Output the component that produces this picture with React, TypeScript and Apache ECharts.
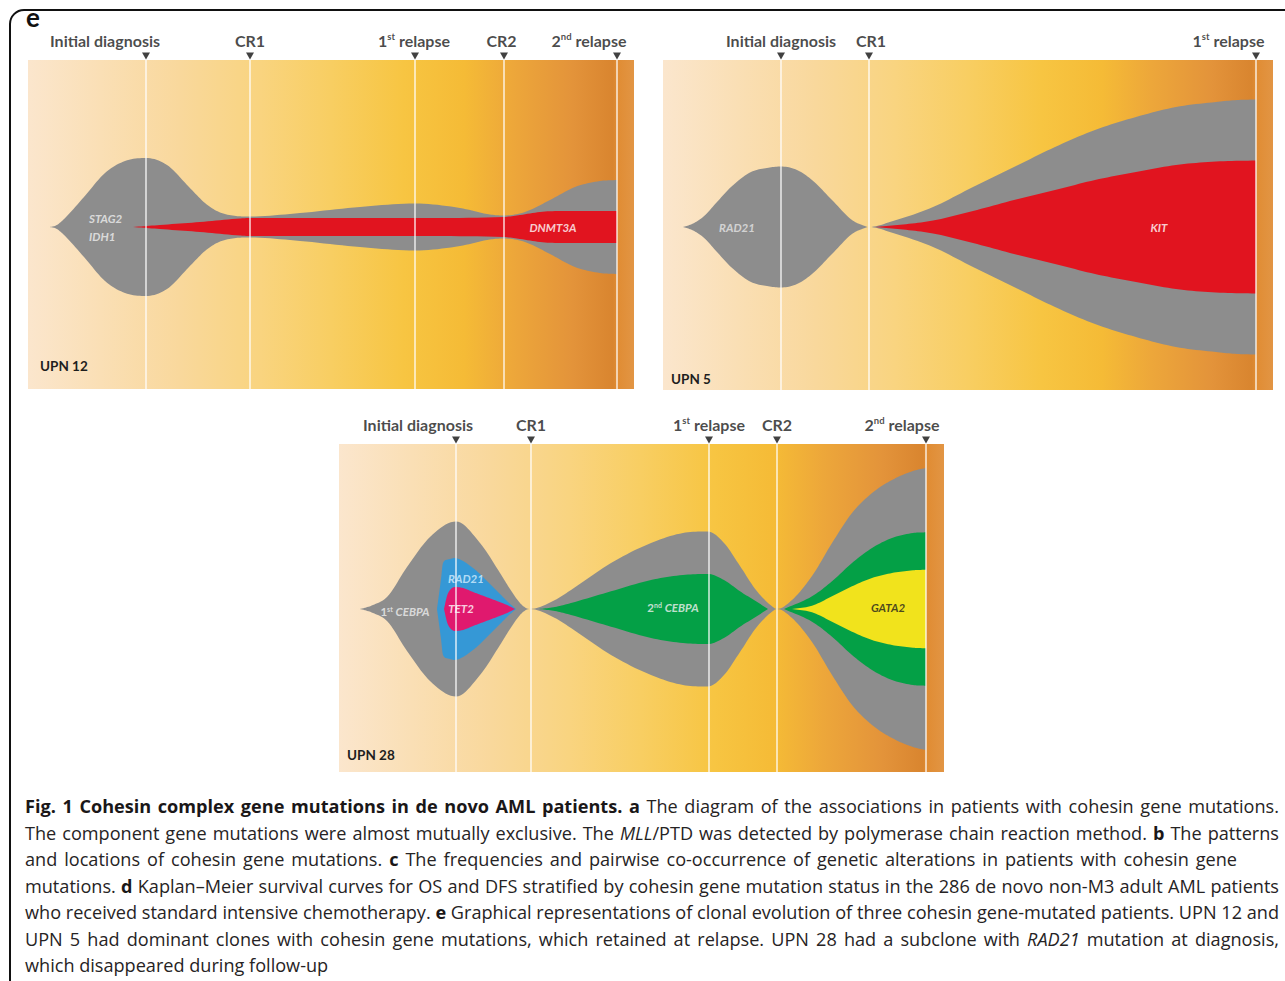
import React, { useEffect, useRef } from 'react';
import * as echarts from 'echarts';

// ---------------- DATA (time in panel units, half-width in px units) ----------------
// UPN 12
const upn12Events = ['Initial diagnosis', 'CR1', '1st relapse', 'CR2', '2nd relapse'];
const upn12EventTimes = [118, 222, 387, 476, 589];
const upn12FounderTimes = [22, 28, 35, 56, 77, 97, 118, 139, 161, 177, 191, 208, 222, 272, 332, 387, 432, 462, 476, 497, 522, 547, 572, 589];
const upn12FounderWidths = [0, 1.5, 7, 30, 54, 66, 69, 62, 40, 24, 15, 11, 10.5, 14, 20, 23.5, 19, 12.5, 11.5, 15, 27, 40, 46, 47];
const upn12Dnmt3aTimes = [105, 132, 172, 212, 222, 300, 387, 476, 492, 517, 542, 589];
const upn12Dnmt3aWidths = [0, 2, 5, 8.5, 9, 9, 9, 10, 12, 15.5, 16, 16];

// UPN 5
const upn5Events = ['Initial diagnosis', 'CR1', '1st relapse'];
const upn5EventTimes = [118, 206, 593];
const upn5FounderTimes = [20, 29, 40, 54, 68, 88, 104, 118, 134, 149, 169, 189, 199, 206, 230, 270, 310, 351, 392, 432, 473, 513, 553, 574, 593];
const upn5FounderWidths = [0, 3, 10, 25, 40, 55, 59, 60.5, 57, 47, 27, 7, 2, 0, 6, 20, 40, 60, 80, 97, 110, 120, 125, 127, 127.5];
const upn5KitTimes = [212, 240, 270, 310, 351, 392, 432, 473, 513, 553, 593];
const upn5KitWidths = [0, 2.5, 6.5, 16, 27, 37, 47, 55, 62, 65.5, 66.5];

// UPN 28
const upn28Events = ['Initial diagnosis', 'CR1', '1st relapse', 'CR2', '2nd relapse'];
const upn28EventTimes = [117, 192, 370, 438, 587];
const upn28FounderTimes = [21, 27, 34, 48, 68, 91, 117, 141, 161, 171, 181, 187, 191, 216, 232, 272, 312, 344, 369, 385, 401, 417, 433, 438, 453, 473, 493, 513, 533, 553, 574, 587];
const upn28FounderWidths = [0, 1.5, 4, 12, 42, 72, 87.5, 66, 36, 20, 6, 1, 0, 9, 19, 46, 66, 76, 77.5, 66, 43, 19, 2.7, 0, 9, 33, 66, 96, 116, 129, 138, 141];
const upn28Rad21Times = [98, 102, 104, 109, 116, 124, 134, 141, 151, 161, 169, 177];
const upn28Rad21Widths = [0, 30, 46, 49.5, 51, 48, 41, 35, 25, 15, 7, 0];
const upn28Tet2Times = [105, 108, 111, 116, 124, 134, 146, 158, 168, 176];
const upn28Tet2Widths = [0, 13, 19, 22, 21, 17, 12.5, 8, 4, 0];
const upn28Cebpa2Times = [200, 216, 232, 272, 312, 344, 369, 385, 401, 417, 429];
const upn28Cebpa2Widths = [0, 2, 6, 17.7, 29, 34, 35, 29, 17.7, 7.7, 0];
const upn28Cebpa2bTimes = [445, 473, 493, 513, 533, 553, 574, 587];
const upn28Cebpa2bWidths = [0, 12.7, 27.7, 46, 61, 71, 76, 76.7];
const upn28Gata2Times = [453, 473, 493, 513, 533, 553, 574, 587];
const upn28Gata2Widths = [0, 3.3, 12.7, 22.7, 31, 36, 38.7, 39.3];

const captionLines = [
  '{b|Fig. 1 Cohesin complex gene mutations in de novo AML patients. a} The diagram of the associations in patients with cohesin gene mutations.',
  'The component gene mutations were almost mutually exclusive. The {i|MLL}/PTD was detected by polymerase chain reaction method. {b|b} The patterns',
  'and locations of cohesin gene mutations. {b|c} The frequencies and pairwise co-occurrence of genetic alterations in patients with cohesin gene',
  'mutations. {b|d} Kaplan\u2013Meier survival curves for OS and DFS stratified by cohesin gene mutation status in the 286 de novo non-M3 adult AML patients',
  'who received standard intensive chemotherapy. {b|e} Graphical representations of clonal evolution of three cohesin gene-mutated patients. UPN 12 and',
  'UPN 5 had dominant clones with cohesin gene mutations, which retained at relapse. UPN 28 had a subclone with {i|RAD21} mutation at diagnosis,',
  'which disappeared during follow-up',
];

// ---------------- LAYOUT / STYLE ----------------
const FONT = 'Lato, "Open Sans", "Noto Sans", sans-serif';
const CAPTION_FONT = '"Open Sans", "Noto Sans", sans-serif';
const CAPTION_X = 25;
const CAPTION_TARGET_WIDTHS = [1254, 1254, 1212, 1254, 1254, 1254, 0];
const PANELS = [
  { left: 28, top: 60, width: 606, height: 329, center: 162, upn: 'UPN 12', upnX: 40, upnY: 366 },
  { left: 663, top: 60, width: 610, height: 330, center: 163, upn: 'UPN 5', upnX: 671, upnY: 379 },
  { left: 339, top: 444, width: 605, height: 328, center: 163, upn: 'UPN 28', upnX: 347, upnY: 755 },
];
const EVENT_LABEL_DX = [
  [-41, 0, -1, -2.5, -28],
  [0, 2, -27.5],
  [-38, 0, 0, 0, -24],
];
const GRAY = '#8d8d8d';
const RED = '#e1141f';
const BLUE = '#3598d6';
const PINK = '#e0196e';
const GREEN = '#04a046';
const YELLOW = '#f1e31c';

function bgGradient() {
  return new echarts.graphic.LinearGradient(0, 0, 1, 0, [
    { offset: 0, color: '#fbe6cd' },
    { offset: 0.12, color: '#fadfb5' },
    { offset: 0.25, color: '#f9d89c' },
    { offset: 0.38, color: '#f9d480' },
    { offset: 0.5, color: '#f8ce62' },
    { offset: 0.62, color: '#f7c542' },
    { offset: 0.72, color: '#f5bb36' },
    { offset: 0.8, color: '#eda73a' },
    { offset: 0.9, color: '#e3933a' },
    { offset: 0.965, color: '#d9852f' },
    { offset: 0.972, color: '#e08c33' },
    { offset: 1, color: '#e29544' },
  ]);
}

function supText(s: string) {
  return s.replace(/^(\d)(st|nd|rd|th)/, '$1{sup|$2}');
}

// monotone cubic (Fritsch-Carlson) curve through pixel points, for drawing only
function monotone(P: number[][], steps = 10) {
  const n = P.length;
  if (n < 2) return P.slice();
  const dx: number[] = [];
  const d: number[] = [];
  for (let i = 0; i < n - 1; i++) {
    dx[i] = P[i + 1][0] - P[i][0];
    d[i] = dx[i] === 0 ? 0 : (P[i + 1][1] - P[i][1]) / dx[i];
  }
  const m: number[] = new Array(n);
  m[0] = d[0];
  m[n - 1] = d[n - 2];
  for (let i = 1; i < n - 1; i++) m[i] = d[i - 1] * d[i] <= 0 ? 0 : (d[i - 1] + d[i]) / 2;
  for (let i = 0; i < n - 1; i++) {
    if (d[i] === 0) {
      m[i] = 0;
      m[i + 1] = 0;
    } else {
      const a = m[i] / d[i];
      const b = m[i + 1] / d[i];
      const s = a * a + b * b;
      if (s > 9) {
        const t = 3 / Math.sqrt(s);
        m[i] = t * a * d[i];
        m[i + 1] = t * b * d[i];
      }
    }
  }
  const out: number[][] = [[P[0][0], P[0][1]]];
  for (let i = 0; i < n - 1; i++) {
    const h = dx[i];
    for (let k = 1; k <= steps; k++) {
      const t = k / steps;
      const t2 = t * t;
      const t3 = t2 * t;
      const y =
        (2 * t3 - 3 * t2 + 1) * P[i][1] +
        (t3 - 2 * t2 + t) * h * m[i] +
        (-2 * t3 + 3 * t2) * P[i + 1][1] +
        (t3 - t2) * h * m[i + 1];
      out.push([P[i][0] + t * h, y]);
    }
  }
  return out;
}

function fish(axis: number, id: string, xs: number[], ws: number[], color: string) {
  const c = PANELS[axis].center;
  return {
    type: 'custom',
    name: id,
    coordinateSystem: 'cartesian2d',
    xAxisIndex: axis,
    yAxisIndex: axis,
    silent: true,
    clip: false,
    z: 2,
    data: xs.map((x, i) => [x, ws[i]]),
    encode: { x: 0, y: 1 },
    renderItem: (params: any, api: any) => {
      if (params.dataIndex !== 0) return null;
      const up = xs.map((x, i) => api.coord([x, c + ws[i]]));
      const lo = xs.map((x, i) => api.coord([x, c - ws[i]]));
      const U = monotone(up);
      const L = monotone(lo).reverse();
      return {
        type: 'polygon',
        silent: true,
        shape: { points: U.concat(L) },
        style: { fill: color, stroke: null },
      };
    },
  };
}

function events(axis: number, names: string[], times: number[]) {
  const p = PANELS[axis];
  return {
    type: 'scatter',
    xAxisIndex: axis,
    yAxisIndex: axis,
    clip: false,
    silent: true,
    z: 6,
    symbol: 'triangle',
    symbolRotate: 180,
    symbolSize: [8, 7],
    symbolOffset: [0, -4],
    itemStyle: { color: '#111' },
    label: {
      show: true,
      position: 'top',
      distance: 3,
      formatter: (q: any) => supText(q.name),
      fontFamily: FONT,
      fontWeight: 'bold',
      fontSize: 16,
      lineHeight: 18,
      color: '#1b1b1b',
      rich: { sup: { fontSize: 9.5, fontWeight: 'bold', verticalAlign: 'top', lineHeight: 10, fontFamily: FONT, color: '#1b1b1b' } },
    },
    data: times.map((t, i) => ({ name: names[i], value: [t, p.height], label: { offset: [EVENT_LABEL_DX[axis][i], 0] } })),
    markLine: {
      silent: true,
      symbol: ['none', 'none'],
      label: { show: false },
      lineStyle: { color: 'rgba(255,255,255,0.78)', width: 1.6, type: 'solid' },
      data: times.map((t) => ({ xAxis: t })),
    },
  };
}

function fishLabels(axis: number, items: { name: string; x: number; dy: number; color: string; left?: boolean }[]) {
  const c = PANELS[axis].center;
  return {
    type: 'scatter',
    xAxisIndex: axis,
    yAxisIndex: axis,
    silent: true,
    z: 7,
    symbolSize: 0,
    label: {
      show: true,
      position: 'inside',
      fontFamily: FONT,
      fontWeight: 'bold',
      fontSize: 11.5,
      formatter: (q: any) => {
        const m = /^(\d)(st|nd) (.+)$/.exec(q.name);
        return m ? `${m[1]}{sup|${m[2]}} {g|${m[3]}}` : `{g|${q.name}}`;
      },
      rich: {
        g: { fontStyle: 'italic', fontWeight: 'bold', fontSize: 11.5, fontFamily: FONT },
        sup: { fontSize: 7, fontWeight: 'bold', verticalAlign: 'top', lineHeight: 8, fontFamily: FONT },
      },
    },
    data: items.map((it) => ({
      name: it.name,
      value: [it.x, c + it.dy],
      label: it.left ? { color: it.color, position: 'right', distance: 0 } : { color: it.color },
    })),
  };
}

// ---- caption: split into styled segments, measure, and justify via spacer tokens ----
function segments(line: string) {
  const out: { t: string; s: string }[] = [];
  const re = /\{(b|i)\|([^}]*)\}/g;
  let last = 0;
  let m: RegExpExecArray | null;
  while ((m = re.exec(line))) {
    if (m.index > last) out.push({ t: line.slice(last, m.index), s: 'n' });
    out.push({ t: m[2], s: m[1] });
    last = m.index + m[0].length;
  }
  if (last < line.length) out.push({ t: line.slice(last), s: 'n' });
  return out;
}

function buildCaption() {
  const ctx = document.createElement('canvas').getContext('2d');
  const fontOf = (s: string, size: number) =>
    `${s === 'b' ? 'bold ' : s === 'i' ? 'italic ' : ''}${size}px ${CAPTION_FONT}`;
  const measureWords = (line: string, size: number) => {
    let w = 0;
    let spaces = 0;
    for (const seg of segments(line)) {
      const parts = seg.t.split(' ');
      if (ctx) ctx.font = fontOf(seg.s, size);
      parts.forEach((p, j) => {
        if (p && ctx) w += ctx.measureText(p).width;
        if (j < parts.length - 1) spaces++;
      });
    }
    return { w, spaces };
  };
  let size = 17.5;
  let spaceW = 4.7;
  if (ctx) {
    const base = 18;
    ctx.font = fontOf('n', base);
    const sp = ctx.measureText(' ').width;
    const nat = [0, 1, 3, 4, 5].map((i) => {
      const r = measureWords(captionLines[i], base);
      return r.w + r.spaces * sp;
    });
    size = Math.max(15, Math.min(20, (base * 1254) / Math.max(...nat)));
    ctx.font = fontOf('n', size);
    spaceW = ctx.measureText(' ').width;
  }
  return captionLines.map((line, idx) => {
    const r = measureWords(line, size);
    const target = CAPTION_TARGET_WIDTHS[idx];
    let gap = spaceW;
    if (ctx && target > 0 && r.spaces > 0) {
      gap = Math.max(spaceW * 0.8, (target - r.w) / r.spaces);
    }
    const parts: string[] = [];
    for (const seg of segments(line)) {
      const words = seg.t.split(' ');
      words.forEach((wd, j) => {
        if (wd) parts.push(`{${seg.s}|${wd}}`);
        if (j < words.length - 1) parts.push('{sp| }');
      });
    }
    return { text: parts.join(''), size, gap };
  });
}

export default function App() {
  const ref = useRef<HTMLDivElement>(null);
  useEffect(() => {
    document.body.style.margin = '0';
    const chart = echarts.init(ref.current!, null, { renderer: 'svg' });
    const caption = buildCaption();

    const series: any[] = [
      fish(0, 'STAG2/IDH1', upn12FounderTimes, upn12FounderWidths, GRAY),
      fish(0, 'DNMT3A', upn12Dnmt3aTimes, upn12Dnmt3aWidths, RED),
      events(0, upn12Events, upn12EventTimes),
      fishLabels(0, [
        { name: 'STAG2', x: 61, dy: 9, color: '#efefef', left: true },
        { name: 'IDH1', x: 61, dy: -9, color: '#efefef', left: true },
        { name: 'DNMT3A', x: 525, dy: 0, color: '#ffffff' },
      ]),
      fish(1, 'RAD21', upn5FounderTimes, upn5FounderWidths, GRAY),
      fish(1, 'KIT', upn5KitTimes, upn5KitWidths, RED),
      events(1, upn5Events, upn5EventTimes),
      fishLabels(1, [
        { name: 'RAD21', x: 74, dy: 0, color: '#e6e6e6' },
        { name: 'KIT', x: 496, dy: 0, color: '#ffffff' },
      ]),
      fish(2, '1st CEBPA', upn28FounderTimes, upn28FounderWidths, GRAY),
      fish(2, 'RAD21-28', upn28Rad21Times, upn28Rad21Widths, BLUE),
      fish(2, 'TET2', upn28Tet2Times, upn28Tet2Widths, PINK),
      fish(2, '2nd CEBPA', upn28Cebpa2Times, upn28Cebpa2Widths, GREEN),
      fish(2, '2nd CEBPA b', upn28Cebpa2bTimes, upn28Cebpa2bWidths, GREEN),
      fish(2, 'GATA2', upn28Gata2Times, upn28Gata2Widths, YELLOW),
      events(2, upn28Events, upn28EventTimes),
      fishLabels(2, [
        { name: '1st CEBPA', x: 66, dy: -2, color: '#efefef' },
        { name: 'RAD21', x: 127, dy: 31, color: '#d6efff' },
        { name: 'TET2', x: 122, dy: 1, color: '#ffffff' },
        { name: '2nd CEBPA', x: 334, dy: 2, color: '#f2f2f2' },
        { name: 'GATA2', x: 549, dy: 2, color: '#1e1e1e' },
      ]),
    ];

    const graphic: any[] = [
      {
        type: 'rect',
        silent: true,
        z: 1,
        shape: { x: 10, y: 10, width: 1300, height: 1000, r: [14, 0, 0, 0] },
        style: { fill: 'none', stroke: '#111', lineWidth: 2 },
      },
      {
        type: 'text',
        silent: true,
        z: 10,
        style: { x: 26, y: 17, text: 'e', fontFamily: FONT, fontWeight: 'bold', fontSize: 26, fill: '#111', textVerticalAlign: 'middle', verticalAlign: 'middle' },
      },
      ...PANELS.map((p) => ({
        type: 'text',
        silent: true,
        z: 10,
        style: { x: p.upnX, y: p.upnY, text: p.upn, fontFamily: FONT, fontWeight: 'bold', fontSize: 13.5, fill: '#1e1e1e', textVerticalAlign: 'middle', verticalAlign: 'middle' },
      })),
      ...caption.map((c, i) => ({
        type: 'text',
        silent: true,
        z: 10,
        style: {
          x: CAPTION_X,
          y: 806 + i * 26.5,
          text: c.text,
          fontFamily: CAPTION_FONT,
          fontSize: c.size,
          fill: '#262324',
          textVerticalAlign: 'middle',
          verticalAlign: 'middle',
          rich: {
            n: { fontSize: c.size, fontFamily: CAPTION_FONT, fill: '#262324' },
            b: { fontWeight: 'bold', fontSize: c.size, fontFamily: CAPTION_FONT, fill: '#1a1718' },
            i: { fontStyle: 'italic', fontSize: c.size, fontFamily: CAPTION_FONT, fill: '#262324' },
            sp: { width: c.gap, fontSize: c.size, fontFamily: CAPTION_FONT },
          },
        },
      })),
    ];

    chart.setOption({
      animation: false,
      backgroundColor: '#ffffff',
      grid: PANELS.map((p) => ({
        left: p.left,
        top: p.top,
        width: p.width,
        height: p.height,
        show: true,
        borderWidth: 0,
        backgroundColor: bgGradient(),
        containLabel: false,
      })),
      xAxis: PANELS.map((p, i) => ({ type: 'value', gridIndex: i, min: 0, max: p.width, show: false })),
      yAxis: PANELS.map((p, i) => ({ type: 'value', gridIndex: i, min: 0, max: p.height, show: false })),
      series,
      graphic,
    });
    return () => chart.dispose();
  }, []);
  return <div ref={ref} style={{ width: 1285, height: 981 }} />;
}
